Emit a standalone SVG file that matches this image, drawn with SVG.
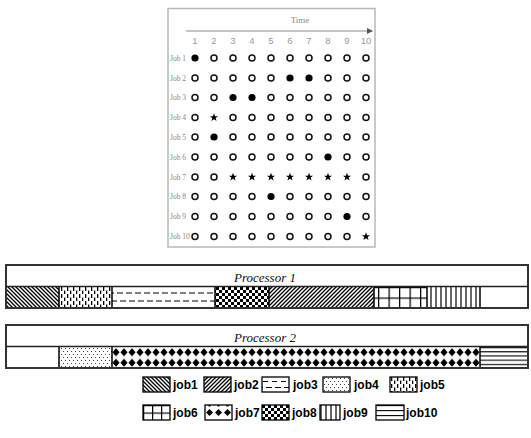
<svg xmlns="http://www.w3.org/2000/svg" width="531" height="438" viewBox="0 0 531 438">
<style>
.tt{font-family:"Liberation Serif",serif;font-size:9px;fill:#8a8a8a}
.num{font-family:"Liberation Sans",sans-serif;font-size:9.5px;fill:#9a9a9a;text-anchor:middle}
.lbl{font-family:"Liberation Serif",serif;font-size:7.5px;fill:#888}
.o{fill:none;stroke:#111;stroke-width:1.5}
.ptitle{font-family:"Liberation Serif",serif;font-style:italic;font-size:13px;fill:#111;text-anchor:middle}
.lg{font-family:"Liberation Sans",sans-serif;font-weight:bold;font-size:12px;fill:#000}
.sw{stroke:#000;stroke-width:1.3}
.frame{fill:#fff;stroke:#333;stroke-width:2}
.seg{stroke:#000;stroke-width:1.5}
</style>
<defs>
<pattern id="p1" width="4" height="4" patternUnits="userSpaceOnUse"><rect width="4" height="4" fill="#fff"/><path d="M0,0L4,4M-1,3L1,5M3,-1L5,1" stroke="#000" stroke-width="1.3"/></pattern>
<pattern id="p2" width="4" height="4" patternUnits="userSpaceOnUse"><rect width="4" height="4" fill="#fff"/><path d="M0,4L4,0M-1,1L1,-1M3,5L5,3" stroke="#000" stroke-width="1.3"/></pattern>
<pattern id="p3" width="9" height="21" patternUnits="userSpaceOnUse"><rect width="9" height="21" fill="#fff"/><path d="M0,6h6M3,14h6" stroke="#000" stroke-width="1.2"/></pattern>
<pattern id="p3l" width="9" height="15" patternUnits="userSpaceOnUse"><rect width="9" height="15" fill="#fff"/><path d="M1,4.5h5M4,10.5h5M0,10.5h1" stroke="#000" stroke-width="1.1"/></pattern>
<pattern id="p4" width="4" height="6" patternUnits="userSpaceOnUse"><rect width="4" height="6" fill="#fff"/><rect x="1" y="1" width="1" height="1" fill="#444"/><rect x="3" y="4" width="1" height="1" fill="#444"/></pattern>
<pattern id="p5" width="6" height="7" patternUnits="userSpaceOnUse"><rect width="6" height="7" fill="#fff"/><rect x="1" y="0" width="1.3" height="4" fill="#000"/><rect x="4" y="3.5" width="1.3" height="4" fill="#000"/></pattern>
<pattern id="p6" width="10.5" height="10.5" patternUnits="userSpaceOnUse"><rect width="10.5" height="10.5" fill="#fff"/><path d="M0.6,0V10.5M0,0.6H10.5" stroke="#000" stroke-width="1.3"/></pattern>
<pattern id="p6l" width="9" height="7.5" patternUnits="userSpaceOnUse"><rect width="9" height="7.5" fill="#fff"/><path d="M0.6,0V7.5M0,0.6H9" stroke="#000" stroke-width="1.3"/></pattern>
<pattern id="p7" width="8" height="10.5" patternUnits="userSpaceOnUse"><rect width="8" height="10.5" fill="#fff"/><path d="M4,1.3L7.6,5.25L4,9.2L0.4,5.25Z" fill="#000"/></pattern>
<pattern id="p7l" width="9" height="15" patternUnits="userSpaceOnUse"><rect width="9" height="15" fill="#fff"/><path d="M4.5,4L8,7.5L4.5,11L1,7.5Z" fill="#000"/><rect x="3.5" y="0" width="2" height="1.5" fill="#000"/></pattern>
<pattern id="p8" width="6" height="6" patternUnits="userSpaceOnUse"><rect width="6" height="6" fill="#fff"/><rect width="3" height="3" fill="#000"/><rect x="3" y="3" width="3" height="3" fill="#000"/></pattern>
<pattern id="p9" width="5" height="5" patternUnits="userSpaceOnUse"><rect width="5" height="5" fill="#fff"/><path d="M1,0V5" stroke="#000" stroke-width="1.2"/></pattern>
<pattern id="p10" width="5" height="4.2" patternUnits="userSpaceOnUse"><rect width="5" height="4.2" fill="#fff"/><path d="M0,0.6H5" stroke="#000" stroke-width="1.1"/></pattern>
<pattern id="p10l" width="5" height="5" patternUnits="userSpaceOnUse"><rect width="5" height="5" fill="#fff"/><path d="M0,0.6H5" stroke="#000" stroke-width="1.1"/></pattern>
<marker id="ar" viewBox="0 0 6 6" refX="5" refY="3" markerWidth="6" markerHeight="6" orient="auto" markerUnits="userSpaceOnUse"><path d="M0,0L6,3L0,6Z" fill="#555"/></marker>
<circle id="o" r="3" class="o"/>
<circle id="f" r="3.6" fill="#000"/>
<path id="s" d="M0,-4.3L1.05,-1.35L4.1,-1.35L1.65,0.5L2.6,3.5L0,1.7L-2.6,3.5L-1.65,0.5L-4.1,-1.35L-1.05,-1.35Z" fill="#000"/>
</defs>
<rect width="531" height="438" fill="#fff"/>

<g id="table">
<rect x="168" y="8.5" width="207" height="238.5" fill="#fff" stroke="#b8b8b8" stroke-width="1.5"/>
<text class="tt" x="300" y="23" text-anchor="middle">Time</text>
<line x1="186" y1="31" x2="372" y2="31" stroke="#b0b0b0" stroke-width="1.6" marker-end="url(#ar)"/>
<g>
<text class="num" x="195" y="44">1</text><text class="num" x="214" y="44">2</text><text class="num" x="233" y="44">3</text><text class="num" x="252" y="44">4</text><text class="num" x="271" y="44">5</text><text class="num" x="290" y="44">6</text><text class="num" x="309" y="44">7</text><text class="num" x="328" y="44">8</text><text class="num" x="347" y="44">9</text><text class="num" x="366" y="44">10</text>
</g>
<g>
<text class="lbl" x="170" y="60.5">Job 1</text><text class="lbl" x="170" y="80.5">Job 2</text><text class="lbl" x="170" y="100">Job 3</text><text class="lbl" x="170" y="120">Job 4</text><text class="lbl" x="170" y="139.5">Job 5</text><text class="lbl" x="170" y="159.5">Job 6</text><text class="lbl" x="170" y="179.5">Job 7</text><text class="lbl" x="170" y="199">Job 8</text><text class="lbl" x="170" y="219">Job 9</text><text class="lbl" x="170" y="239">Job 10</text>
</g>
<g id="marks">
<g transform="translate(0,58)"><use href="#f" x="195"/><use href="#o" x="214"/><use href="#o" x="233"/><use href="#o" x="252"/><use href="#o" x="271"/><use href="#o" x="290"/><use href="#o" x="309"/><use href="#o" x="328"/><use href="#o" x="347"/><use href="#o" x="366"/></g>
<g transform="translate(0,78)"><use href="#o" x="195"/><use href="#o" x="214"/><use href="#o" x="233"/><use href="#o" x="252"/><use href="#o" x="271"/><use href="#f" x="290"/><use href="#f" x="309"/><use href="#o" x="328"/><use href="#o" x="347"/><use href="#o" x="366"/></g>
<g transform="translate(0,97.5)"><use href="#o" x="195"/><use href="#o" x="214"/><use href="#f" x="233"/><use href="#f" x="252"/><use href="#o" x="271"/><use href="#o" x="290"/><use href="#o" x="309"/><use href="#o" x="328"/><use href="#o" x="347"/><use href="#o" x="366"/></g>
<g transform="translate(0,117.5)"><use href="#o" x="195"/><use href="#s" x="214"/><use href="#o" x="233"/><use href="#o" x="252"/><use href="#o" x="271"/><use href="#o" x="290"/><use href="#o" x="309"/><use href="#o" x="328"/><use href="#o" x="347"/><use href="#o" x="366"/></g>
<g transform="translate(0,137)"><use href="#o" x="195"/><use href="#f" x="214"/><use href="#o" x="233"/><use href="#o" x="252"/><use href="#o" x="271"/><use href="#o" x="290"/><use href="#o" x="309"/><use href="#o" x="328"/><use href="#o" x="347"/><use href="#o" x="366"/></g>
<g transform="translate(0,157)"><use href="#o" x="195"/><use href="#o" x="214"/><use href="#o" x="233"/><use href="#o" x="252"/><use href="#o" x="271"/><use href="#o" x="290"/><use href="#o" x="309"/><use href="#f" x="328"/><use href="#o" x="347"/><use href="#o" x="366"/></g>
<g transform="translate(0,177)"><use href="#o" x="195"/><use href="#o" x="214"/><use href="#s" x="233"/><use href="#s" x="252"/><use href="#s" x="271"/><use href="#s" x="290"/><use href="#s" x="309"/><use href="#s" x="328"/><use href="#s" x="347"/><use href="#o" x="366"/></g>
<g transform="translate(0,196.5)"><use href="#o" x="195"/><use href="#o" x="214"/><use href="#o" x="233"/><use href="#o" x="252"/><use href="#f" x="271"/><use href="#o" x="290"/><use href="#o" x="309"/><use href="#o" x="328"/><use href="#o" x="347"/><use href="#o" x="366"/></g>
<g transform="translate(0,216.5)"><use href="#o" x="195"/><use href="#o" x="214"/><use href="#o" x="233"/><use href="#o" x="252"/><use href="#o" x="271"/><use href="#o" x="290"/><use href="#o" x="309"/><use href="#o" x="328"/><use href="#f" x="347"/><use href="#o" x="366"/></g>
<g transform="translate(0,236.5)"><use href="#o" x="195"/><use href="#o" x="214"/><use href="#o" x="233"/><use href="#o" x="252"/><use href="#o" x="271"/><use href="#o" x="290"/><use href="#o" x="309"/><use href="#o" x="328"/><use href="#o" x="347"/><use href="#s" x="366"/></g>
</g>
</g>

<g id="processor1">
<rect class="frame" x="6" y="265" width="522" height="43"/>
<text class="ptitle" x="265" y="282">Processor 1</text>
<g transform="translate(0,287)">
<rect x="6" y="0" width="53" height="21" fill="url(#p1)"/>
<rect x="59" y="0" width="53" height="21" fill="url(#p5)"/>
<rect x="112" y="0" width="103" height="21" fill="url(#p3)"/>
<rect x="215" y="0" width="54" height="21" fill="url(#p8)"/>
<rect x="269" y="0" width="105" height="21" fill="url(#p2)"/>
<rect x="374" y="0" width="53" height="21" fill="url(#p6)"/>
<rect x="427" y="0" width="53" height="21" fill="url(#p9)"/>
<path class="seg" d="M59,0V21M112,0V21M215,0V21M269,0V21M374,0V21M427,0V21M480,0V21"/>
</g>
<rect x="6" y="265" width="522" height="43" fill="none" stroke="#333" stroke-width="2"/>
<line x1="6" y1="286.5" x2="528" y2="286.5" stroke="#222" stroke-width="1.5"/>
</g>

<g id="processor2">
<rect class="frame" x="6" y="325" width="522" height="43"/>
<text class="ptitle" x="265" y="342">Processor 2</text>
<g transform="translate(0,347)">
<rect x="59" y="0" width="53" height="21" fill="url(#p4)"/>
<rect x="112" y="0" width="368" height="21" fill="url(#p7)"/>
<rect x="480" y="0" width="48" height="21" fill="url(#p10)"/>
<path class="seg" d="M59,0V21M112,0V21M480,0V21"/>
</g>
<rect x="6" y="325" width="522" height="43" fill="none" stroke="#333" stroke-width="2"/>
<line x1="6" y1="346.5" x2="528" y2="346.5" stroke="#222" stroke-width="1.5"/>
</g>

<g id="legend">
<g id="lg1" transform="translate(143,377)"><rect class="sw" width="27" height="15" fill="url(#p1)"/><text class="lg" x="30" y="12">job1</text></g>
<g id="lg2" transform="translate(204,377)"><rect class="sw" width="27" height="15" fill="url(#p2)"/><text class="lg" x="30" y="12">job2</text></g>
<g id="lg3" transform="translate(262,377)"><rect class="sw" width="27" height="15" fill="url(#p3l)"/><text class="lg" x="31" y="12">job3</text></g>
<g id="lg4" transform="translate(323,377)"><rect class="sw" width="27" height="15" fill="url(#p4)"/><text class="lg" x="31" y="12">job4</text></g>
<g id="lg5" transform="translate(390,377)"><rect class="sw" width="27" height="15" fill="url(#p5)"/><text class="lg" x="30" y="12">job5</text></g>
<g id="lg6" transform="translate(143,405)"><rect class="sw" width="27" height="15" fill="url(#p6l)"/><text class="lg" x="30" y="12">job6</text></g>
<g id="lg7" transform="translate(205,405)"><rect class="sw" width="27" height="15" fill="url(#p7l)"/><text class="lg" x="30" y="12">job7</text></g>
<g id="lg8" transform="translate(262,405)"><rect class="sw" width="27" height="15" fill="url(#p8)"/><text class="lg" x="30" y="12">job8</text></g>
<g id="lg9" transform="translate(320,405)"><rect class="sw" width="20" height="15" fill="url(#p9)"/><text class="lg" x="23" y="12">job9</text></g>
<g id="lg10" transform="translate(376,405)"><rect class="sw" width="28" height="15" fill="url(#p10l)"/><text class="lg" x="30" y="12">job10</text></g>
</g>
</svg>
